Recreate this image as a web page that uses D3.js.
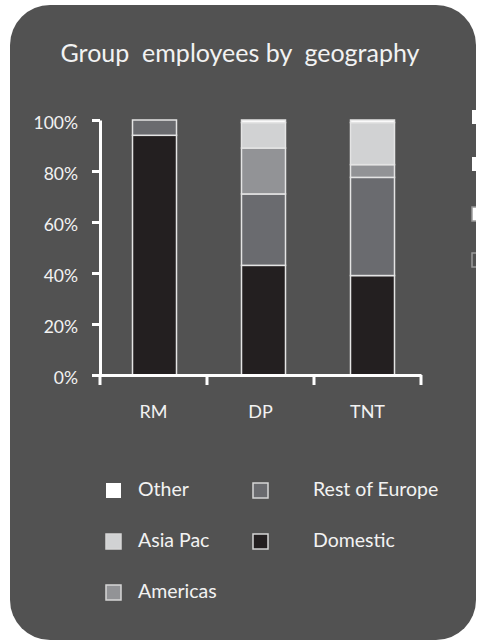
<!DOCTYPE html>
<html>
<head>
<meta charset="utf-8">
<script src="https://cdn.jsdelivr.net/npm/d3@7"></script>
<style>
  html, body { margin: 0; padding: 0; background: #ffffff; }
  svg { display: block; }
  text { font-family: Lato, "Open Sans", sans-serif; fill: #f2f2f2; }
</style>
</head>
<body>
<svg id="chart" width="478" height="642"></svg>
<script>
// ---- data ----
const categories = ["RM", "DP", "TNT"];
const seriesNames = ["Domestic", "Rest of Europe", "Americas", "Asia Pac", "Other"];
const domestic     = [94, 43, 39];
const restOfEurope = [6, 28, 38.5];
const americas     = [0, 18, 5];
const asiaPac      = [0, 10, 16.5];
const other        = [0, 1, 1];
const yTickValues  = [0, 20, 40, 60, 80, 100];
const legendOrder  = ["Other", "Rest of Europe", "Asia Pac", "Domestic", "Americas"];
const seriesColors = ["#231f20", "#6a6b6f", "#929396", "#d1d2d3", "#ffffff"];
const titleText = "Group\u00a0\u00a0employees by\u00a0\u00a0geography";
const clippedKeys = ["Other", "Other", "Asia Pac", "Card"];

// ---- build ----
const svg = d3.select("#chart");

const cardX = 10, cardY = 5, cardW = 466, cardH = 635, cardR = 40;
svg.append("defs").append("clipPath").attr("id", "cardClip")
  .append("rect").attr("x", cardX).attr("y", cardY)
  .attr("width", cardW).attr("height", cardH).attr("rx", cardR).attr("ry", cardR);

svg.append("rect")
  .attr("x", cardX).attr("y", cardY).attr("width", cardW).attr("height", cardH)
  .attr("rx", cardR).attr("ry", cardR)
  .attr("fill", "#525252");

const g = svg.append("g").attr("clip-path", "url(#cardClip)");

// title
g.append("text")
  .attr("x", 240).attr("y", 62)
  .attr("text-anchor", "middle")
  .style("font-size", "25px")
  .text(titleText);

const table = categories.map((c, i) => ({
  cat: c,
  "Domestic": domestic[i],
  "Rest of Europe": restOfEurope[i],
  "Americas": americas[i],
  "Asia Pac": asiaPac[i],
  "Other": other[i]
}));
const stacked = d3.stack().keys(seriesNames)(table);

const x = d3.scaleBand().domain(categories).range([100, 421]).padding(0);
const xBars = x.copy().range([100, 427]);
const y = d3.scaleLinear().domain([0, 100]).range([375, 120]);
const color = d3.scaleOrdinal().domain(seriesNames).range(seriesColors);

const barW = 44;
const layers = g.append("g").selectAll("g")
  .data(stacked).join("g")
  .attr("fill", d => color(d.key));
layers.selectAll("rect")
  .data(d => d.filter(s => s[1] - s[0] > 0))
  .join("rect")
  .attr("x", d => xBars(d.data.cat) + xBars.bandwidth() / 2 - barW / 2)
  .attr("y", d => y(d[1]))
  .attr("width", barW)
  .attr("height", d => y(d[0]) - y(d[1]))
  .attr("stroke", "#e4e4e4")
  .attr("stroke-width", 1.5);

// y axis
const yAxis = g.append("g")
  .attr("transform", "translate(100,0)")
  .call(d3.axisLeft(y).tickValues(yTickValues).tickFormat(d => d + "%")
    .tickSize(8).tickSizeOuter(0).tickPadding(14));
yAxis.select(".domain").attr("stroke", "#ffffff").attr("stroke-width", 3);
yAxis.selectAll(".tick line").attr("stroke", "#ffffff").attr("stroke-width", 3);
yAxis.selectAll(".tick text")
  .attr("dy", "0.5em")
  .style("font-size", "17.5px")
  .style("font-family", "Lato, sans-serif")
  .attr("fill", "#f2f2f2");

// x axis
const xAxis = g.append("g")
  .attr("transform", "translate(0,375)")
  .call(d3.axisBottom(x).tickSize(0).tickSizeOuter(0).tickPadding(30));
xAxis.select(".domain").attr("stroke", "#ffffff").attr("stroke-width", 3);
xAxis.selectAll(".tick text")
  .attr("dy", "0.71em")
  .style("font-size", "18px")
  .style("font-family", "Lato, sans-serif")
  .attr("fill", "#f2f2f2");
const boundaries = categories.map(c => x(c)).concat([x(categories[categories.length - 1]) + x.bandwidth()]);
xAxis.selectAll("line.bound")
  .data(boundaries).join("line")
  .attr("class", "bound")
  .attr("x1", d => d).attr("x2", d => d)
  .attr("y1", 0).attr("y2", 10)
  .attr("stroke", "#ffffff").attr("stroke-width", 3);

// legend
const legendPos = [
  { sx: 106, tx: 138, base: 496 },
  { sx: 253, tx: 313, base: 496 },
  { sx: 106, tx: 138, base: 547 },
  { sx: 253, tx: 313, base: 547 },
  { sx: 106, tx: 138, base: 598 }
];
const legend = g.append("g").selectAll("g")
  .data(legendOrder).join("g");
legend.append("rect")
  .attr("x", (d, i) => legendPos[i].sx)
  .attr("y", (d, i) => legendPos[i].base - 13)
  .attr("width", 15).attr("height", 15)
  .attr("fill", d => color(d))
  .attr("stroke", d => d === "Other" ? "none" : "#d6d6d6")
  .attr("stroke-width", 1.5);
legend.append("text")
  .attr("x", (d, i) => legendPos[i].tx)
  .attr("y", (d, i) => legendPos[i].base)
  .style("font-size", "19.5px")
  .text(d => d);

// clipped remnants of a second legend at the right edge
const clippedY = [110, 157, 207, 253];
g.append("g").selectAll("rect")
  .data(clippedKeys).join("rect")
  .attr("x", 472)
  .attr("y", (d, i) => clippedY[i])
  .attr("width", 10).attr("height", 14)
  .attr("fill", d => d === "Card" ? "#525252" : "#ffffff")
  .attr("stroke", (d, i) => i >= 2 ? "#9a9a9a" : "none")
  .attr("stroke-width", 1.5);
</script>
</body>
</html>
